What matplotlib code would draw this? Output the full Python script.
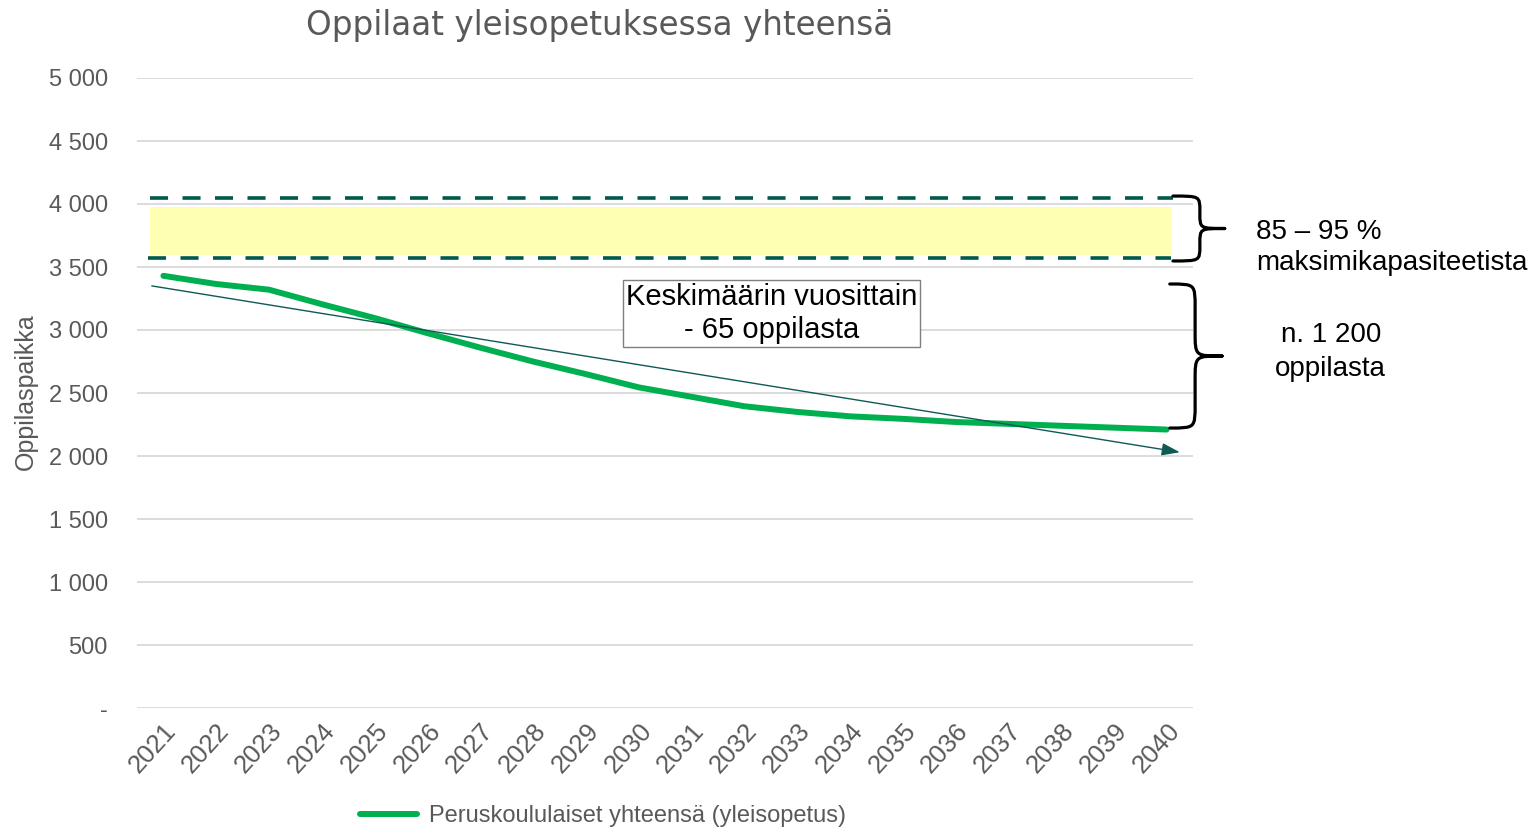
import matplotlib
matplotlib.use("Agg")
import matplotlib.pyplot as plt
from matplotlib.path import Path
from matplotlib.patches import PathPatch
import numpy as np

plt.rcParams['font.family'] = ['Liberation Sans', 'DejaVu Sans']

# ---- data ----
years = [str(y) for y in range(2021, 2041)]
students = [3430, 3365, 3320, 3205, 3095, 2975, 2860, 2750, 2650, 2545,
            2470, 2395, 2350, 2315, 2295, 2270, 2255, 2240, 2225, 2210]
band_upper = 4050      # 95 % capacity
band_lower = 3575      # 85 % capacity
fill_upper = 3980
fill_lower = 3595
trend_start = 3350
trend_end = 2030
yticks = [0, 500, 1000, 1500, 2000, 2500, 3000, 3500, 4000, 4500, 5000]
ytick_labels = ['-', '500', '1 000', '1 500', '2 000', '2 500', '3 000',
                '3 500', '4 000', '4 500', '5 000']
title = 'Oppilaat yleisopetuksessa yhteensä'
ylabel = 'Oppilaspaikka'
series_label = 'Peruskoululaiset yhteensä (yleisopetus)'
box_text = 'Keskimäärin vuosittain\n- 65 oppilasta'
band_text = '85 – 95 %\nmaksimikapasiteetista'
diff_text = 'n. 1 200\noppilasta'
brace1_top, brace1_bottom = 4063, 3548
brace2_top, brace2_bottom = 3365, 2222

GRAY = '#595959'
GRID = '#d9d9d9'
GREEN = '#00b050'
DKGREEN = '#00594a'

fig = plt.figure(figsize=(15.34, 8.30), dpi=100)
ax = fig.add_axes([137/1534, 1 - 708/830, (1193-137)/1534, (708-78)/830])

x = np.arange(len(years))
ax.set_xlim(-0.5, len(years) - 0.5)
ax.set_ylim(0, 5000)

# capacity band
ax.fill_between([-0.25, 19.1], fill_lower, fill_upper, color='#ffffb3', lw=0, zorder=1)
ax.plot([-0.25, 19.12], [band_upper, band_upper], color=DKGREEN, lw=2.6,
        dashes=(5, 4), dash_capstyle='butt', zorder=3)
ax.plot([-0.3, 19.08], [band_lower, band_lower], color=DKGREEN, lw=2.6,
        dashes=(5, 4), dash_capstyle='butt', zorder=3)

# main series
line, = ax.plot(x, students, color=GREEN, lw=4.3, solid_capstyle='round',
                solid_joinstyle='round', zorder=4, label=series_label)

# trend arrow
ax.annotate('', xy=(19.25, trend_end), xytext=(-0.22, trend_start),
            arrowprops=dict(arrowstyle='-|>,head_length=1.1,head_width=0.38',
                            color='#0e5a55', lw=1.0, shrinkA=0, shrinkB=0),
            zorder=5)

# axes styling
ax.set_yticks(yticks)
ax.set_yticklabels(ytick_labels)
ax.set_xticks(x)
ax.set_xticklabels(years, rotation=48, ha='right', rotation_mode='anchor')
ax.tick_params(axis='y', length=0, pad=21, labelsize=17, labelcolor=GRAY)
ax.tick_params(axis='x', length=0, pad=8, labelsize=18.5, labelcolor=GRAY)
for s in ax.spines.values():
    s.set_visible(False)
ax.grid(axis='y', color=GRID, lw=1.3)
ax.set_axisbelow(True)
ax.set_ylabel(ylabel, fontsize=18, color=GRAY)
ax.yaxis.set_label_coords(-0.094, 0.502)

fig.text(600/1534, 1 - 26/830, title, ha='center', va='center',
         fontsize=23.5, color=GRAY, family=['DejaVu Sans'])

# text box
ax.text(11.52, 3131, box_text, ha='center', va='center', fontsize=21,
        color='black', linespacing=1.25,
        bbox=dict(boxstyle='square,pad=0.1', fc='white', ec='#7f7f7f', lw=1.0),
        zorder=6)


def brace(ax, x0, xb, xt, y0, y1, r):
    ym = (y0 + y1) / 2
    verts = [(x0, y0),
             (xb, y0), (xb, y0), (xb, y0 - r),
             (xb, ym + r),
             (xb, ym), (xb, ym), (xt, ym),
             (xb, ym), (xb, ym), (xb, ym - r),
             (xb, y1 + r),
             (xb, y1), (xb, y1), (x0, y1)]
    codes = [Path.MOVETO,
             Path.CURVE4, Path.CURVE4, Path.CURVE4,
             Path.LINETO,
             Path.CURVE4, Path.CURVE4, Path.CURVE4,
             Path.CURVE4, Path.CURVE4, Path.CURVE4,
             Path.LINETO,
             Path.CURVE4, Path.CURVE4, Path.CURVE4]
    p = PathPatch(Path(verts, codes), fc='none', ec='black', lw=2.3,
                  clip_on=False, zorder=6, capstyle='round', joinstyle='round')
    ax.add_patch(p)


brace(ax, 19.12, 19.63, 20.1, brace1_top, brace1_bottom, 120)
brace(ax, 19.06, 19.54, 20.05, brace2_top, brace2_bottom, 190)

ax.text(20.7, 3651, band_text, ha='left', va='center', fontsize=20,
        color='black', linespacing=1.25, clip_on=False)
ax.text(22.11, 2825, diff_text, ha='center', va='center', fontsize=20,
        color='black', linespacing=1.42, clip_on=False)

fig.legend(handles=[line], labels=[series_label], loc='center',
           bbox_to_anchor=(603/1534, 1 - 816/830), frameon=False,
           fontsize=17, labelcolor=GRAY, handlelength=2.4, handletextpad=0.5)

fig.savefig('out.png', dpi=100)
